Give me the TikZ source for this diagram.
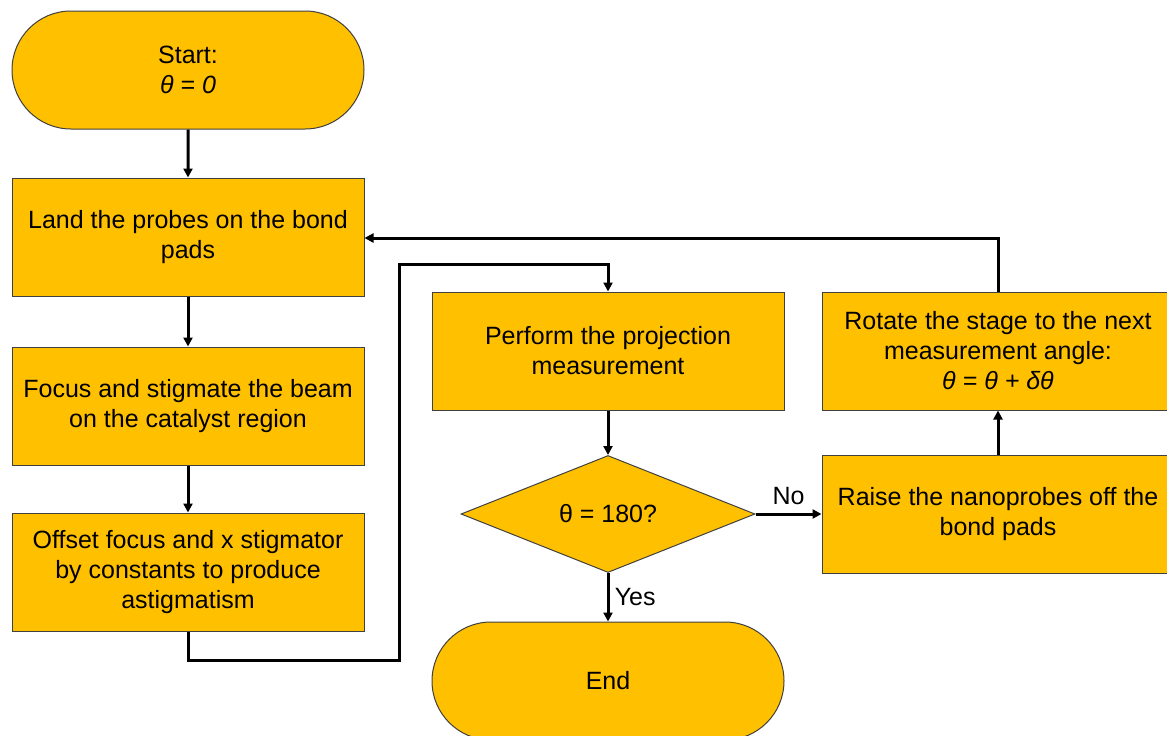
\documentclass[tikz,border=0pt]{standalone}
\usepackage{fontspec}
\setmainfont{Liberation Sans}
\usetikzlibrary{shapes.geometric,shapes.misc,arrows.meta}
\definecolor{gold}{HTML}{FFC000}
\tikzset{
  box/.style={draw=black!75,fill=gold,line width=1pt,minimum width=352,minimum height=118,
    align=center,inner sep=0pt,font=\fontsize{25}{30}\selectfont},
  term/.style={box,rounded rectangle},
  test/.style={box,diamond,minimum width=294,minimum height=117},
  flow/.style={line width=3pt,-{Triangle[length=9pt,width=9pt]}},
  lbl/.style={font=\fontsize{25}{30}\selectfont}
}
\begin{document}
\begin{tikzpicture}[x=1pt,y=-1pt]
\clip (0,0) rectangle (1167,736);
% left column
\node[term] (start) at (188,70) {Start:\\\textit{θ = 0}};
\node[box] (land) at (188,237) {Land the probes on the bond\\pads};
\node[box] (focus) at (188,406) {Focus and stigmate the beam\\on the catalyst region};
\node[box] (offset) at (188,572) {Offset focus and x stigmator\\by constants to produce\\astigmatism};
% middle column
\node[box] (measure) at (608,351) {Perform the projection\\measurement};
\node[test] (check) at (608,514) {θ = 180?};
\node[term] (finish) at (608,681) {End};
% right column
\node[box] (rotate) at (998,351) {Rotate the stage to the next\\measurement angle:\\\textit{θ = θ + δθ}};
\node[box] (raise) at (998,514) {Raise the nanoprobes off the\\bond pads};
\coordinate (c1) at (188,660);
\coordinate (c2) at (399,660);
\coordinate (c3) at (399,264);
\coordinate (c4) at (608,264);
\coordinate (c5) at (998,238);
\draw[flow] (start) -- (land);
\draw[flow] (land) -- (focus);
\draw[flow] (focus) -- (offset);
\draw[flow] (offset.south) -- (c1) -- (c2) -- (c3) -- (c4) -- (measure.north);
\draw[flow] (measure) -- (check);
\draw[flow] (check.south) -- node[lbl,right,xshift=2pt] {Yes} (finish.north);
\draw[flow] (check.east) -- node[lbl,above,yshift=4pt] {No} (raise.west);
\draw[flow] (raise) -- (rotate);
\draw[flow] (rotate.north) -- (c5) -- (land.east |- c5);
\end{tikzpicture}
\end{document}
